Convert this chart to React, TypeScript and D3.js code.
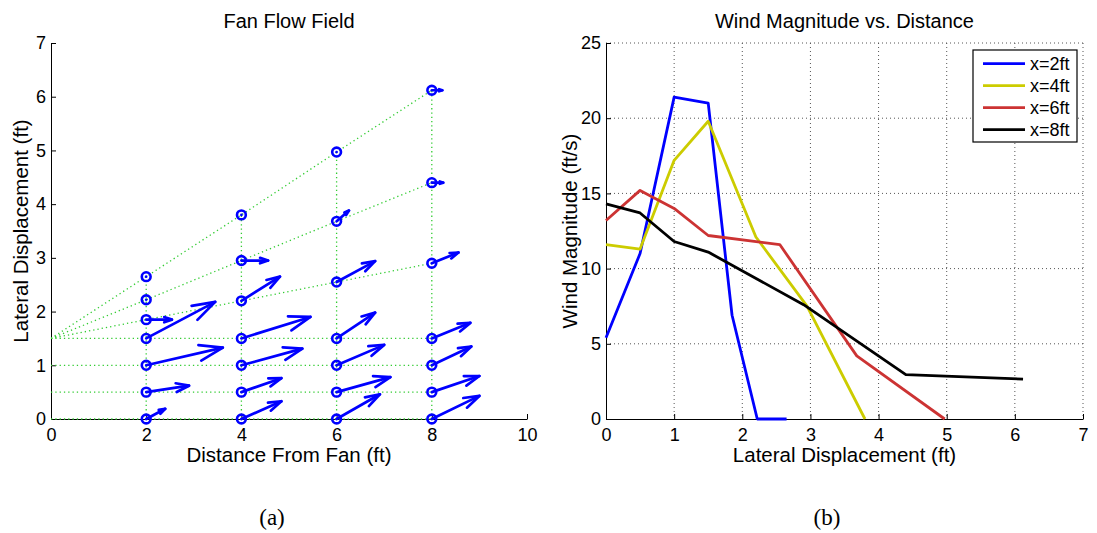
import React, { useRef, useEffect } from "react";
import * as d3 from "d3";

// fan positions (ft) and the lateral sample positions at each one
const fanDistances = [2, 4, 6, 8];
const lateralPositions = [
  [0, 0.5, 1, 1.5, 1.85, 2.22, 2.65],
  [0, 0.5, 1, 1.5, 2.2, 2.95, 3.8],
  [0, 0.5, 1, 1.5, 2.55, 3.68, 4.97],
  [0, 0.5, 1, 1.5, 2.9, 4.4, 6.12],
];
const fanSourceY = 1.5;

// quiver components (ft, as drawn)
const flowU = [
  [0.4, 0.9, 1.61, 1.45, 0.54, 0, 0],
  [0.84, 0.84, 1.28, 1.45, 0.81, 0.56, 0],
  [0.91, 1.13, 1.0, 0.81, 0.81, 0.26, 0],
  [1.0, 1.0, 0.83, 0.81, 0.56, 0.24, 0.22],
];
const flowV = [
  [0.19, 0.12, 0.33, 0.68, 0, 0, 0],
  [0.33, 0.26, 0.31, 0.4, 0.45, 0, 0],
  [0.46, 0.28, 0.38, 0.48, 0.39, 0.2, 0],
  [0.43, 0.3, 0.35, 0.29, 0.2, 0, 0],
];

// wind magnitude (ft/s) at each lateral position
const magnitudes = [
  [5.4, 11.0, 21.4, 21.0, 6.9, 0, 0],
  [11.6, 11.3, 17.2, 19.8, 12.1, 7.5, 0],
  [13.2, 15.2, 14.0, 12.2, 11.6, 4.2, 0],
  [14.3, 13.7, 11.8, 11.1, 7.6, 2.95, 2.65],
];
const seriesLabels = ["x=2ft", "x=4ft", "x=6ft", "x=8ft"];
const seriesColors = ["#0000ff", "#cccc00", "#cc3333", "#000000"];

const leftXTicks = [0, 2, 4, 6, 8, 10];
const leftYTicks = [0, 1, 2, 3, 4, 5, 6, 7];
const rightXTicks = [0, 1, 2, 3, 4, 5, 6, 7];
const rightYTicks = [0, 5, 10, 15, 20, 25];

const FONT = "'Liberation Sans', Arial, Helvetica, sans-serif";
const TICK_SIZE = 18;

export default function App() {
  const svgRef = useRef<SVGSVGElement>(null);

  useEffect(() => {
    const width = 1097;
    const height = 533;
    const svg = d3.select(svgRef.current).attr("width", width).attr("height", height);
    svg.selectAll("*").remove();
    svg.append("rect").attr("width", width).attr("height", height).attr("fill", "white");

    const fmt = d3.format("d");
    const styleAxis = (g: any) => {
      g.attr("font-family", FONT).attr("font-size", TICK_SIZE);
      g.selectAll("text").attr("fill", "#000");
      g.selectAll("line").attr("stroke", "#000");
      g.select(".domain").attr("stroke", "#000");
    };

    // ---------- (a) Fan Flow Field ----------
    const la = { left: 51, right: 527, top: 43, bottom: 419 };
    const x1 = d3.scaleLinear().domain([0, 10]).range([la.left, la.right]);
    const y1 = d3.scaleLinear().domain([0, 7]).range([la.bottom, la.top]);

    svg.append("g")
      .attr("transform", `translate(0,${la.bottom})`)
      .call(d3.axisBottom(x1).tickValues(leftXTicks).tickFormat(fmt as any).tickSize(-5).tickSizeOuter(0).tickPadding(9))
      .call(styleAxis);
    svg.append("g")
      .attr("transform", `translate(${la.left},0)`)
      .call(d3.axisLeft(y1).tickValues(leftYTicks).tickFormat(fmt as any).tickSize(-5).tickSizeOuter(0).tickPadding(5))
      .call(styleAxis);

    // green dotted grid of sample rows / columns
    const green = svg.append("g")
      .attr("fill", "none")
      .attr("stroke", "#33cc33")
      .attr("stroke-width", 1.3)
      .attr("stroke-dasharray", "1.3,3");
    const line = d3.line<[number, number]>().x(d => x1(d[0])).y(d => y1(d[1]));
    const nRows = lateralPositions[0].length;
    d3.range(nRows).forEach(k => {
      const start: [number, number] = [0, k < 4 ? lateralPositions[0][k] : fanSourceY];
      const pts: [number, number][] = [start, ...fanDistances.map((fx, c) => [fx, lateralPositions[c][k]] as [number, number])];
      green.append("path").attr("d", line(pts));
    });
    fanDistances.forEach((fx, c) => {
      green.append("path").attr("d", line([[fx, 0], [fx, d3.max(lateralPositions[c]) as number]]));
    });

    // quiver
    const alpha = 0.3;
    const beta = 0.3;
    const quiver = svg.append("g")
      .attr("fill", "none")
      .attr("stroke", "#0000ff")
      .attr("stroke-width", 2.7)
      .attr("stroke-linecap", "round")
      .attr("stroke-linejoin", "round");
    fanDistances.forEach((fx, c) => {
      lateralPositions[c].forEach((py, k) => {
        const u = flowU[c][k];
        const v = flowV[c][k];
        const tx = fx + u;
        const ty = py + v;
        quiver.append("circle")
          .attr("cx", x1(fx)).attr("cy", y1(py)).attr("r", 4.4)
          .attr("stroke-width", 2.6);
        quiver.append("path").attr("d", line([[fx, py], [tx, ty]]));
        if (u !== 0 || v !== 0) {
          const head: [number, number][] = [
            [tx - alpha * (u + beta * v), ty - alpha * (v - beta * u)],
            [tx, ty],
            [tx - alpha * (u - beta * v), ty - alpha * (v + beta * u)],
          ];
          quiver.append("path").attr("d", line(head));
        }
      });
    });

    svg.append("text")
      .attr("x", (la.left + la.right) / 2).attr("y", 28)
      .attr("text-anchor", "middle").attr("font-family", FONT).attr("font-size", 20)
      .text("Fan Flow Field");
    svg.append("text")
      .attr("x", (la.left + la.right) / 2).attr("y", 462)
      .attr("text-anchor", "middle").attr("font-family", FONT).attr("font-size", 20.5)
      .text("Distance From Fan (ft)");
    svg.append("text")
      .attr("transform", `translate(28,${(la.top + la.bottom) / 2}) rotate(-90)`)
      .attr("text-anchor", "middle").attr("font-family", FONT).attr("font-size", 20.5)
      .text("Lateral Displacement (ft)");

    // ---------- (b) Wind Magnitude vs. Distance ----------
    const lb = { left: 606, right: 1083, top: 43, bottom: 419 };
    const x2 = d3.scaleLinear().domain([0, 7]).range([lb.left, lb.right]);
    const y2 = d3.scaleLinear().domain([0, 25]).range([lb.bottom, lb.top]);

    const grid = svg.append("g")
      .attr("stroke", "#555")
      .attr("stroke-width", 1)
      .attr("stroke-dasharray", "1,3");
    rightXTicks.filter(t => t > 0).forEach(t => {
      grid.append("line").attr("x1", x2(t)).attr("x2", x2(t)).attr("y1", lb.top).attr("y2", lb.bottom);
    });
    rightYTicks.filter(t => t > 0).forEach(t => {
      grid.append("line").attr("x1", lb.left).attr("x2", lb.right).attr("y1", y2(t)).attr("y2", y2(t));
    });

    svg.append("g")
      .attr("transform", `translate(0,${lb.bottom})`)
      .call(d3.axisBottom(x2).tickValues(rightXTicks).tickFormat(fmt as any).tickSize(-5).tickSizeOuter(0).tickPadding(9))
      .call(styleAxis);
    svg.append("g")
      .attr("transform", `translate(${lb.left},0)`)
      .call(d3.axisLeft(y2).tickValues(rightYTicks).tickFormat(fmt as any).tickSize(-5).tickSizeOuter(0).tickPadding(5))
      .call(styleAxis);

    magnitudes.forEach((series, s) => {
      const xs = lateralPositions[s];
      svg.append("path")
        .attr("d", d3.line<number>().x((_, i) => x2(xs[i])).y(d => y2(d))(series))
        .attr("fill", "none")
        .attr("stroke", seriesColors[s])
        .attr("stroke-width", 2.8)
        .attr("stroke-linejoin", "round");
    });

    // legend
    const lg = { x: 973, y: 50, w: 104, h: 92 };
    svg.append("rect")
      .attr("x", lg.x).attr("y", lg.y).attr("width", lg.w).attr("height", lg.h)
      .attr("fill", "white").attr("stroke", "#000").attr("stroke-width", 1.2);
    seriesLabels.forEach((label, i) => {
      const yy = lg.y + 13.6 + i * 22;
      svg.append("line")
        .attr("x1", lg.x + 10).attr("x2", lg.x + 52).attr("y1", yy).attr("y2", yy)
        .attr("stroke", seriesColors[i]).attr("stroke-width", 2.8);
      svg.append("text")
        .attr("x", lg.x + 57).attr("y", yy).attr("dy", "0.36em")
        .attr("font-family", FONT).attr("font-size", TICK_SIZE)
        .text(label);
    });

    svg.append("text")
      .attr("x", (lb.left + lb.right) / 2).attr("y", 28)
      .attr("text-anchor", "middle").attr("font-family", FONT).attr("font-size", 20)
      .text("Wind Magnitude vs. Distance");
    svg.append("text")
      .attr("x", (lb.left + lb.right) / 2).attr("y", 462)
      .attr("text-anchor", "middle").attr("font-family", FONT).attr("font-size", 20.5)
      .text("Lateral Displacement (ft)");
    svg.append("text")
      .attr("transform", `translate(577,${(lb.top + lb.bottom) / 2}) rotate(-90)`)
      .attr("text-anchor", "middle").attr("font-family", FONT).attr("font-size", 20.5)
      .text("Wind Magnitude (ft/s)");

    // sub-figure captions
    const serif = "'Liberation Serif', 'DejaVu Serif', serif";
    svg.append("text")
      .attr("x", 272).attr("y", 525).attr("text-anchor", "middle")
      .attr("font-family", serif).attr("font-size", 23).text("(a)");
    svg.append("text")
      .attr("x", 827).attr("y", 525).attr("text-anchor", "middle")
      .attr("font-family", serif).attr("font-size", 23).text("(b)");
  }, []);

  return <svg ref={svgRef} style={{ position: "absolute", left: 0, top: 0 }}></svg>;
}
